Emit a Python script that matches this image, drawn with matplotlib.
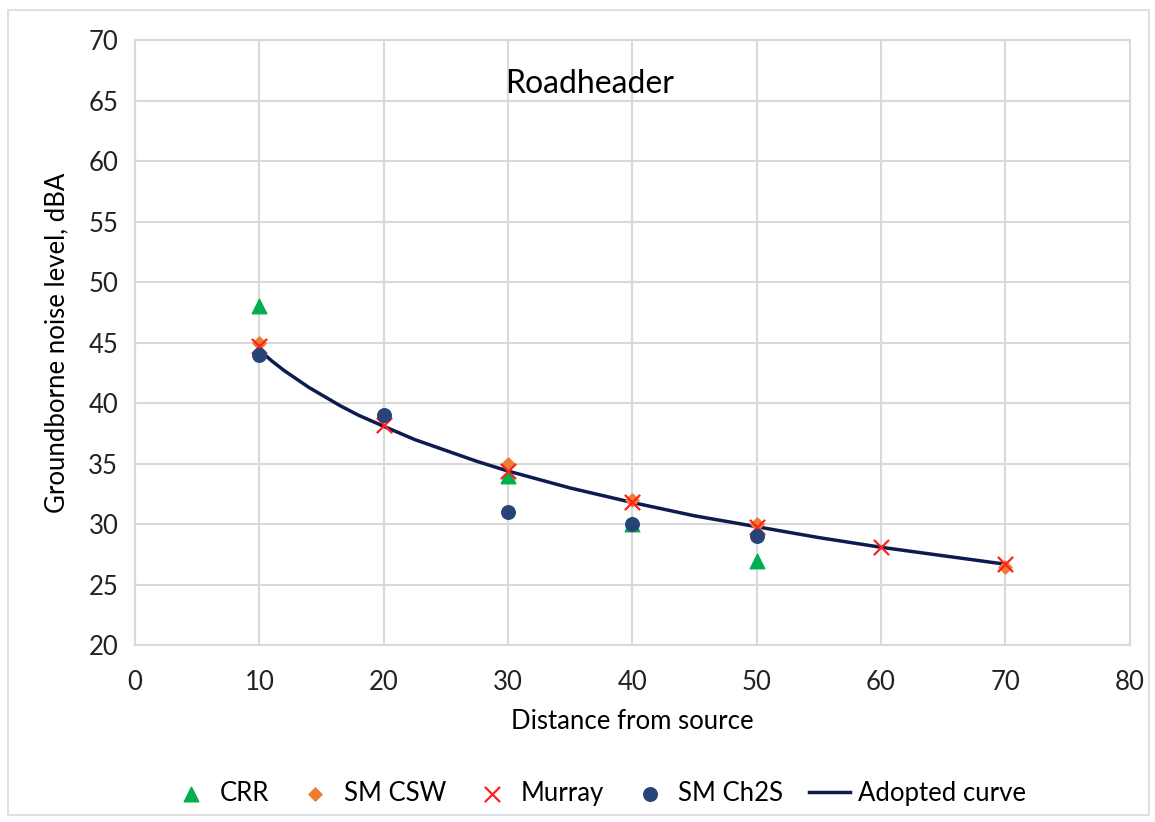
import matplotlib.pyplot as plt
from matplotlib.patches import Rectangle

plt.rcParams['font.family'] = ['Lato', 'DejaVu Sans']

# 측정 데이터 (거리, dBA)
crr_x = [10, 30, 40, 50]
crr_y = [48, 34, 30, 27]

csw_x = [10, 20, 30, 40, 50, 70]
csw_y = [45, 39, 35, 32, 30, 26.5]

murray_x = [10, 20, 30, 40, 50, 60, 70]
murray_y = [44.7, 38.2, 34.4, 31.8, 29.8, 28.1, 26.7]

ch2s_x = [10, 20, 30, 40, 50]
ch2s_y = [44, 39, 31, 30, 29]

# 채택 곡선
curve_x = [10, 11, 12, 13, 14, 15, 16.5, 18, 20, 22.5, 25, 27.5, 30, 35, 40, 45, 50, 55, 60, 65, 70]
curve_y = [44.4, 43.5, 42.7, 42.0, 41.3, 40.7, 39.8, 39.0, 38.1, 37.0, 36.1, 35.2, 34.4,
           33.0, 31.8, 30.7, 29.8, 28.9, 28.1, 27.4, 26.7]

x_ticks = [0, 10, 20, 30, 40, 50, 60, 70, 80]
y_ticks = [20, 25, 30, 35, 40, 45, 50, 55, 60, 65, 70]

fig = plt.figure(figsize=(11.55, 8.22), dpi=100)
fig.patches.append(Rectangle((0.007, 0.008), 0.988, 0.98, transform=fig.transFigure,
                             fill=False, edgecolor='#D9D9D9', linewidth=1.2))
ax = fig.add_axes([0.1169, 0.215, 0.8611, 0.736])

grid_c = '#D9D9D9'
ax.plot(curve_x, curve_y, color='#0D1B4F', lw=2.5, label='Adopted curve', zorder=3)
ax.scatter(crr_x, crr_y, marker='^', s=110, color='#00B050', label='CRR', zorder=4)
ax.scatter(csw_x, csw_y, marker='D', s=45, color='#ED7D31', label='SM CSW', zorder=4)
ax.scatter(murray_x, murray_y, marker='x', s=120, color='#FF2020', linewidths=1.6, label='Murray', zorder=5)
ax.scatter(ch2s_x, ch2s_y, marker='o', s=95, color='#264478', label='SM Ch2S', zorder=6)

ax.set_xlim(0, 80)
ax.set_ylim(20, 70)
ax.set_xticks(x_ticks)
ax.set_yticks(y_ticks)
ax.grid(True, color=grid_c, lw=1.5)
ax.set_axisbelow(True)
for s in ax.spines.values():
    s.set_color(grid_c)
    s.set_linewidth(1.5)
ax.tick_params(length=0, labelsize=18.5, pad=12, colors='#222222')
ax.tick_params(axis='x', pad=18)

ax.set_xlabel('Distance from source', fontsize=18.5, labelpad=10)
ax.set_ylabel('Groundborne noise level, dBA', fontsize=18.5, labelpad=14)
ax.text(36.6, 66.4, 'Roadheader', fontsize=23, ha='center', va='center')

h, l = ax.get_legend_handles_labels()
order = [1, 2, 3, 4, 0]
fig.legend([h[i] for i in order], [l[i] for i in order], loc='center',
           bbox_to_anchor=(0.518, 0.035), ncol=5, frameon=False, fontsize=18.5,
           handlelength=1.6, columnspacing=1.0, handletextpad=0.3)

plt.savefig('out.png', dpi=100)
